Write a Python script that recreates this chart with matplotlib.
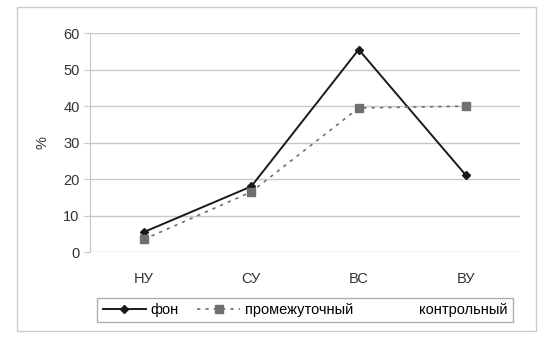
import matplotlib.pyplot as plt
from matplotlib.patches import Rectangle

categories = ['НУ', 'СУ', 'ВС', 'ВУ']
fon = [5.5, 18, 55.5, 21]
intermediate = [3.5, 16.5, 39.5, 40]
control = [4, 15, 39, 40]
yticks = [0, 10, 20, 30, 40, 50, 60]

plt.rcParams['font.family'] = ['Liberation Sans', 'DejaVu Sans']

fig = plt.figure(figsize=(5.53, 3.38), dpi=100)
ax = fig.add_axes([0.163, 0.254, 0.777, 0.648])

x = range(len(categories))
ax.plot(x, fon, color='#1a1a1a', lw=1.4, marker='D', ms=4.5, label='фон')
ax.plot(x, intermediate, color='#707070', lw=1.2, ls=(0, (2, 3)), marker='s', ms=6,
        label='промежуточный')
ax.plot(x, control, color='white', lw=1, label='контрольный', zorder=0)

ax.set_xlim(-0.5, 3.5)
ax.set_ylim(0, 60)
ax.set_yticks(yticks)
ax.set_xticks(list(x))
ax.set_xticklabels(categories)
ax.yaxis.grid(True, color='#c8c8c8', lw=1)
ax.set_axisbelow(True)
for s in ['top', 'right', 'bottom']:
    ax.spines[s].set_visible(False)
ax.spines['left'].set_color('#c8c8c8')
ax.tick_params(axis='x', length=0, pad=14, labelsize=10.5, colors='#333333')
ax.tick_params(axis='y', length=4, color='#c8c8c8', labelsize=10.5, colors='#333333')
ax.set_ylabel('%', fontsize=10.5, color='#333333', labelpad=10)

fig.legend(loc='lower left', bbox_to_anchor=(0.163, 0.025, 0.777, 0.08), mode='expand',
           ncol=3, frameon=True, fancybox=False, edgecolor='#999999', fontsize=10.5,
           handlelength=3, borderpad=0.35, handletextpad=0.3)

fig.patches.append(Rectangle((0.03, 0.02), 0.94, 0.96, transform=fig.transFigure,
                             fill=False, edgecolor='#cccccc', lw=1))

fig.savefig('out.png', dpi=100)
